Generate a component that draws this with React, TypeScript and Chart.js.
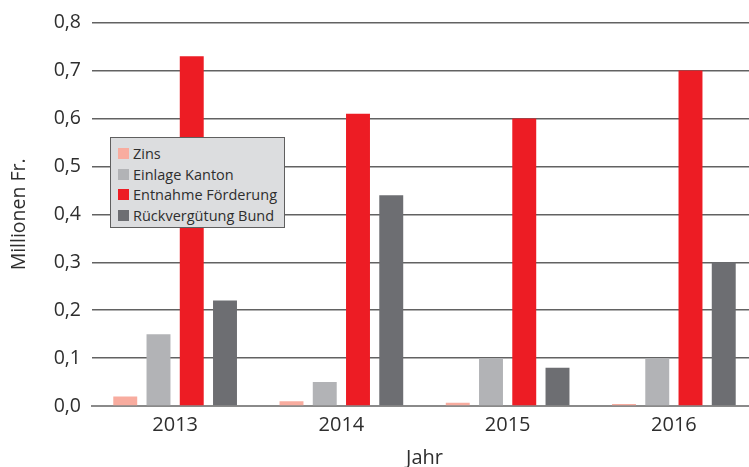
import React, { useEffect, useRef } from "react";
import { Chart, registerables } from "chart.js";

Chart.register(...registerables);

const categories = ["2013", "2014", "2015", "2016"];
const seriesNames = ["Zins", "Einlage Kanton", "Entnahme Förderung", "Rückvergütung Bund"];
const zins = [0.02, 0.01, 0.007, 0.004];
const einlageKanton = [0.15, 0.05, 0.1, 0.1];
const entnahmeFoerderung = [0.73, 0.61, 0.6, 0.7];
const rueckverguetungBund = [0.22, 0.44, 0.08, 0.3];
const seriesColors = ["#F8AC9F", "#B2B3B6", "#ED1C24", "#6D6E72"];
const yMin = 0;
const yMax = 0.8;
const yStep = 0.1;
const xTitle = "Jahr";
const yTitle = "Millionen Fr.";

const FONT = "'Open Sans', 'Noto Sans', sans-serif";

export default function App() {
  const canvasRef = useRef<HTMLCanvasElement | null>(null);

  useEffect(() => {
    const canvas = canvasRef.current;
    if (!canvas) return;
    const values = [zins, einlageKanton, entnahmeFoerderung, rueckverguetungBund];
    const chart = new Chart(canvas, {
      type: "bar",
      data: {
        labels: categories,
        datasets: seriesNames.map((name, i) => ({
          label: name,
          data: values[i],
          backgroundColor: seriesColors[i],
          borderWidth: 0,
          barPercentage: 0.72,
          categoryPercentage: 0.8,
        })),
      },
      options: {
        responsive: false,
        animation: false,
        layout: { padding: { left: 0, right: 13, top: 22, bottom: 0 } },
        plugins: {
          legend: { display: false },
          tooltip: { enabled: false },
        },
        scales: {
          x: {
            grid: { display: false, drawTicks: false },
            border: { display: true, color: "#8a8a8a", width: 2 },
            ticks: {
              color: "#2e2e2e",
              font: { family: FONT, size: 20 },
              padding: 7,
            },
            title: {
              display: true,
              text: xTitle,
              color: "#2e2e2e",
              font: { family: FONT, size: 20, lineHeight: 0.85 },
              padding: { top: 0, bottom: 0 },
            },
            afterFit: (scale: any) => {
              scale.height = 61;
            },
          },
          y: {
            min: yMin,
            max: yMax,
            grid: { color: "#626262", lineWidth: 1.4, drawTicks: false },
            border: { display: false },
            ticks: {
              stepSize: yStep,
              color: "#2e2e2e",
              font: { family: FONT, size: 19.5 },
              padding: 11,
              callback: (v: any) => Number(v).toFixed(1).replace(".", ","),
            },
            title: {
              display: true,
              text: yTitle,
              color: "#2e2e2e",
              font: { family: FONT, size: 19.5 },
              padding: { top: 8, bottom: 0 },
            },
            afterFit: (scale: any) => {
              scale.width = 92;
            },
          },
        },
      },
    });
    return () => chart.destroy();
  }, []);

  const rowTop = 10;
  const rowStep = 20.7;

  return (
    <div
      style={{
        position: "fixed",
        left: 0,
        top: 0,
        width: 749,
        height: 467,
        overflow: "hidden",
        background: "#fff",
      }}
    >
      <canvas
        ref={canvasRef}
        width={770}
        height={467}
        style={{ position: "absolute", left: 0, top: 0, width: 770, height: 467 }}
      />
      <div
        style={{
          position: "absolute",
          left: 110,
          top: 137,
          width: 173,
          height: 89,
          background: "#DCDDDF",
          border: "1px solid #5f5f5f",
          fontFamily: FONT,
          fontSize: 14.5,
          color: "#2e2e2e",
        }}
      >
        {seriesNames.map((name, i) => (
          <div
            key={name}
            style={{
              position: "absolute",
              left: 7,
              top: rowTop + i * rowStep - 4,
              height: 19,
              display: "flex",
              alignItems: "center",
              whiteSpace: "nowrap",
            }}
          >
            <span
              style={{
                display: "inline-block",
                width: 11,
                height: 11,
                background: seriesColors[i],
                marginRight: 4,
              }}
            />
            <span style={{ lineHeight: "19px" }}>{name}</span>
          </div>
        ))}
      </div>
    </div>
  );
}
